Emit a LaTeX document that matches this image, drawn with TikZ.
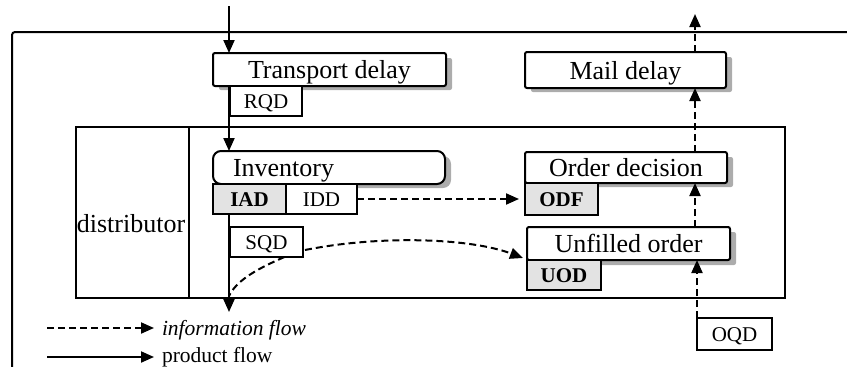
\documentclass[tikz,border=0pt]{standalone}
\usepackage{fontspec}
\setmainfont{Liberation Serif}
\usetikzlibrary{arrows.meta,calc,backgrounds}
\newcommand\bigf{\fontsize{26}{30}\selectfont}
\newcommand\smallf{\fontsize{21}{25}\selectfont}
\newcommand\legf{\fontsize{21.5}{25}\selectfont}
\begin{document}
\begin{tikzpicture}[x=1pt,y=-1pt,
  every node/.style={inner sep=0pt, outer sep=0pt, text height=14pt, text depth=0pt},
  frame/.style={line width=2pt},
  mainbox/.style={draw, line width=2pt, fill=white, rounded corners=2pt, anchor=north west, font=\bigf, text height=18pt},
  subbox/.style={draw, line width=1.8pt, fill=white, anchor=north west, font=\smallf, text height=14pt},
  shadedbox/.style={subbox, fill=gray!22, font=\smallf\bfseries},
  prod/.style={line width=2pt, -{Triangle[length=13pt,width=11pt]}},
  infoline/.style={line width=2pt, dash pattern=on 7pt off 4pt},
  info/.style={infoline, -{Triangle[length=13pt,width=11pt]}},
  shadowfill/.style={fill=gray!65, draw=none}]
\useasboundingbox (0,0) rectangle (847,367);

% outer frame
\coordinate (fr1) at (850,32);
\coordinate (fr2) at (12,32);
\coordinate (fr3) at (12,370);
\draw[frame, rounded corners=3pt] (fr1) -- (fr2) -- (fr3);

% distributor box
\node[draw, frame, minimum width=709pt, minimum height=171pt, anchor=north west] (dist) at (76,127) {};
\coordinate (divx) at (189,0);
\draw[frame] (dist.north -| divx) -- (dist.south -| divx);
\node[font=\bigf, text height=18pt] (distlabel) at (131,223) {distributor};

% boxes
\node[mainbox, minimum width=233pt, minimum height=33pt] (td) at (213,53) {Transport delay};
\node[subbox, minimum width=72pt, minimum height=30pt] (rqd) at (230,86) {RQD};
\node[mainbox, minimum width=201pt, minimum height=36pt] (md) at (525,52) {Mail delay};

\node[mainbox, rounded corners=8pt, inner xsep=20pt, text width=192pt, align=left, minimum height=33pt] (inv) at (213,151) {Inventory};
\node[shadedbox, minimum width=73pt, minimum height=30pt] (iad) at (213,184) {IAD};
\node[subbox, minimum width=71pt, minimum height=30pt] (idd) at (286,184) {IDD};

\node[mainbox, minimum width=202pt, minimum height=31pt] (od) at (525,152) {Order decision};
\node[shadedbox, minimum width=73pt, minimum height=32pt] (odf) at (525,183) {ODF};

\node[mainbox, minimum width=203pt, minimum height=33pt] (uo) at (527,227) {Unfilled order};
\node[shadedbox, minimum width=74pt, minimum height=30pt] (uod) at (527,260) {UOD};

\node[subbox, minimum width=73pt, minimum height=30pt] (sqd) at (230,227) {SQD};
\node[subbox, minimum width=75pt, minimum height=32pt] (oqd) at (697,318) {OQD};

% shadows
\begin{scope}[on background layer]
  \fill[shadowfill, rounded corners=2pt] ($(td.north west)+(6,5)$) rectangle ($(td.south east)+(6,4)$);
  \fill[shadowfill, rounded corners=2pt] ($(md.north west)+(6,5)$) rectangle ($(md.south east)+(6,4)$);
  \fill[shadowfill, rounded corners=8pt] ($(inv.north west)+(6,5)$) rectangle ($(inv.south east)+(6,4)$);
  \fill[shadowfill, rounded corners=2pt] ($(od.north west)+(6,5)$) rectangle ($(od.south east)+(6,4)$);
  \fill[shadowfill, rounded corners=2pt] ($(uo.north west)+(6,5)$) rectangle ($(uo.south east)+(6,5)$);
\end{scope}

% product flow
\coordinate (ptop) at (229,6);
\coordinate (pbot) at (229,312);
\draw[prod] (ptop) -- (td.north -| ptop);
\draw[prod] (td.south -| ptop) -- (inv.north -| ptop);
\draw[prod] (iad.south -| ptop) -- (pbot);

% information flow
\coordinate (cx) at (695,0);
\coordinate (mdtop) at (695,14);
\draw[info] (md.north -| cx) -- (mdtop);
\draw[info] (od.north -| cx) -- (md.south -| cx);
\draw[info] (uo.north -| cx) -- (od.south -| cx);
\draw[info] (oqd.north west) -- (uo.south -| oqd.west);
\draw[info, shorten >=6pt] (idd.east) -- (odf.west);
\draw[info] ($(sqd.south east)+(2,-7)$) .. controls (380,235) and (470,238) .. ($(uod.north west)+(-4,-2)$);
\draw[infoline] ($(sqd.south)+(18,0)$) .. controls (252,271) and (236,282) .. ($(dist.south -| ptop)+(0,-2)$);

% legend
\coordinate (l1a) at (47,328);
\coordinate (l1b) at (154,328);
\coordinate (l2a) at (47,357);
\coordinate (l2b) at (154,357);
\draw[info] (l1a) -- (l1b);
\draw[prod] (l2a) -- (l2b);
\node[font=\legf\itshape, anchor=west] (l1t) at (162,328) {information flow};
\node[font=\legf, anchor=west] (l2t) at (162,355) {product flow};
\end{tikzpicture}
\end{document}
